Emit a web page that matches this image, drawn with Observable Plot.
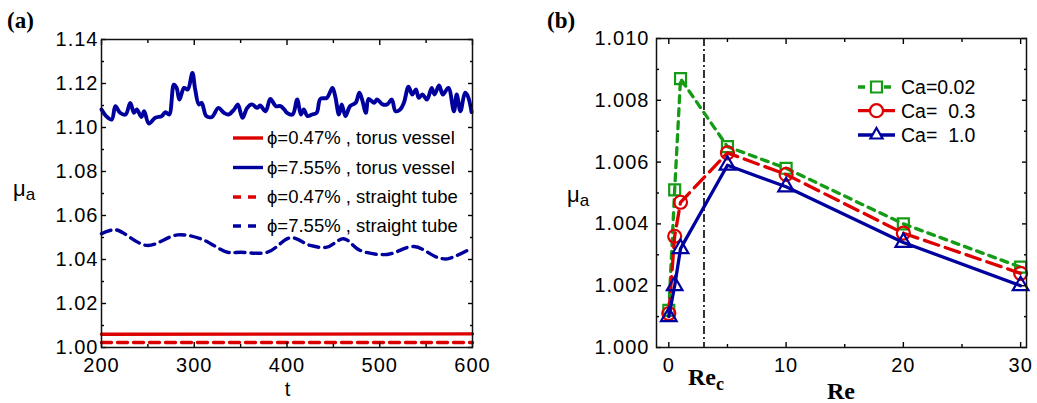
<!DOCTYPE html>
<html>
<head>
<meta charset="utf-8">
<script src="https://cdn.jsdelivr.net/npm/d3@7"></script>
<script src="https://cdn.jsdelivr.net/npm/@observablehq/plot@0.6"></script>
<style>
  body { margin: 0; background: #fff; }
  #fig { position: relative; width: 1037px; height: 403px; overflow: hidden; }
  #fig svg { position: absolute; top: 0; }
</style>
</head>
<body>
<div id="fig"></div>
<script>
// ---------- panel (a): apparent viscosity vs time ----------
const tTorus755 = [200,205,211,215,220,226,231,235,238,243,246,251,258,265,269,273,278,281,284,289,
  293,298,301,305,308,313,319,326,332,337,343,347,352,357,362,368,371,377,382,388,393,397,
  400,406,411,415,418,422,427,432,436,443,449,452,456,459,463,468,474,478,481,485,488,494,497,503,
  508,513,517,522,526,531,535,539,542,546,551,556,559,564,568,574,580,583,587,592,595,599];
const muTorus755 = [1.1082,1.1052,1.1036,1.1097,1.1067,1.1059,1.1112,1.1067,1.1082,1.1048,1.1074,1.1018,
  1.1044,1.1052,1.1070,1.1059,1.1195,1.1180,1.1127,1.1180,1.1173,1.1248,1.1173,1.1105,1.1112,1.1052,
  1.1048,1.1089,1.1067,1.1059,1.1082,1.1105,1.1044,1.1089,1.1105,1.1089,1.1100,1.1074,1.1130,1.1097,
  1.1097,1.1082,
  1.1067,1.1059,1.1127,1.1059,1.1082,1.1052,1.1059,1.1067,1.1130,1.1135,1.1180,1.1142,1.1059,1.1105,
  1.1052,1.1097,1.1112,1.1158,1.1127,1.1067,1.1130,1.1112,1.1127,1.1105,1.1105,1.1127,1.1074,1.1082,
  1.1112,1.1185,1.1150,1.1173,1.1135,1.1150,1.1127,1.1180,1.1150,1.1191,1.1150,1.1180,1.1074,1.1150,
  1.1074,1.1158,1.1142,1.1070];

const tTorus047 = [200, 400, 600];
const muTorus047 = [1.0060, 1.0061, 1.0062];

const tTube755 = [200,215,249,282,307,336,350,379,404,425,443,461,479,508,537,562,573,598];
const muTube755 = [1.0517,1.0535,1.0464,1.0512,1.0494,1.0433,1.0433,1.0433,1.0499,1.0464,1.0456,
  1.0494,1.0441,1.0423,1.0459,1.0410,1.0403,1.0449];

const tTube047 = [200, 400, 600];
const muTube047 = [1.0023, 1.0023, 1.0023];

const tTicks = [200, 300, 400, 500, 600];
const tMinor = [250, 350, 450, 550];
const muTicksA = [1.00, 1.02, 1.04, 1.06, 1.08, 1.10, 1.12, 1.14];
const muMinorA = [1.01, 1.03, 1.05, 1.07, 1.09, 1.11, 1.13];

const legendA = ["\u03D5=0.47% , torus vessel", "\u03D5=7.55% , torus vessel",
                 "\u03D5=0.47% , straight tube", "\u03D5=7.55% , straight tube"];

// ---------- panel (b): apparent viscosity vs Reynolds number ----------
const re = [0, 0.5, 1, 5, 10, 20, 30];
const muCa002 = [1.0012, 1.0051, 1.0087, 1.0065, 1.0058, 1.0040, 1.0026];
const muCa03  = [1.0011, 1.0036, 1.0047, 1.0063, 1.0056, 1.0037, 1.0024];
const muCa10  = [1.0010, 1.0020, 1.0032, 1.0059, 1.0052, 1.0034, 1.0020];
const reCritical = 3;

const reTicks = [0, 10, 20, 30];
const reMinor = [5, 15, 25];
const muTicksB = [1.000, 1.002, 1.004, 1.006, 1.008, 1.010];
const muMinorB = [1.001, 1.003, 1.005, 1.007, 1.009];

const legendB = ["Ca=0.02", "Ca=  0.3", "Ca=  1.0"];

// ---------- styling ----------
const BLUE = "#00009e", RED = "#dd0000", GREEN = "#159b15";
const SANS = "'Liberation Sans', Arial, sans-serif";
const SERIF = "'Liberation Serif', 'Times New Roman', serif";

const zip = (xs, ys, kx, ky) => xs.map((x, i) => ({[kx]: x, [ky]: ys[i]}));

// ticks pointing into the frame on all four sides
function boxAxes(xMajor, xMinor, yMajor, yMinor, xFmt, yFmt, yPad) {
  const common = {label: null, strokeWidth: 1.4};
  return [
    Plot.axisX(xMajor, {...common, anchor: "bottom", tickSize: -5, tickPadding: 15, tickFormat: xFmt}),
    Plot.axisX(xMinor, {...common, anchor: "bottom", tickSize: -3, fill: "none"}),
    Plot.axisX(xMajor, {...common, anchor: "top", tickSize: -5, fill: "none"}),
    Plot.axisX(xMinor, {...common, anchor: "top", tickSize: -3, fill: "none"}),
    Plot.axisY(yMajor, {...common, anchor: "left", tickSize: -5, tickPadding: yPad, tickFormat: yFmt}),
    Plot.axisY(yMinor, {...common, anchor: "left", tickSize: -3, fill: "none"}),
    Plot.axisY(yMajor, {...common, anchor: "right", tickSize: -5, fill: "none"}),
    Plot.axisY(yMinor, {...common, anchor: "right", tickSize: -3, fill: "none"}),
    Plot.frame({stroke: "#111", strokeWidth: 1.5})
  ];
}

const fig = document.getElementById("fig");
const TICK_STYLE = {fontFamily: SANS, fontSize: "20px", letterSpacing: "1px", color: "black",
                    background: "transparent", overflow: "visible"};

// ---------- draw panel (a) ----------
const plotA = Plot.plot({
  width: 518, height: 403,
  marginLeft: 101, marginRight: 46, marginTop: 39, marginBottom: 56,
  style: TICK_STYLE,
  x: {domain: [200, 600]},
  y: {domain: [1.00, 1.14]},
  marks: [
    Plot.line(zip(tTube755, muTube755, "t", "mu"), {x: "t", y: "mu", stroke: BLUE, strokeWidth: 3.4, strokeDasharray: "10,6", curve: "catmull-rom"}),
    Plot.line(zip(tTube047, muTube047, "t", "mu"), {x: "t", y: "mu", stroke: RED, strokeWidth: 3.4, strokeDasharray: "10,6"}),
    Plot.line(zip(tTorus047, muTorus047, "t", "mu"), {x: "t", y: "mu", stroke: RED, strokeWidth: 3.4}),
    Plot.line(zip(tTorus755, muTorus755, "t", "mu"), {x: "t", y: "mu", stroke: BLUE, strokeWidth: 3.9, curve: "catmull-rom"}),
    ...boxAxes(tTicks, tMinor, muTicksA, muMinorA, d3.format("d"), d3.format(".2f"), 8)
  ]
});
plotA.style.left = "0px";
fig.appendChild(plotA);

const gA = d3.select(plotA).append("g").attr("text-anchor", "start").style("letter-spacing", "0px");
gA.append("text").attr("x", 7).attr("y", 28)
  .attr("font-family", SERIF).attr("font-weight", "bold").attr("font-size", 23).text("(a)");
const yLabA = gA.append("text").attr("x", 13).attr("y", 196).attr("font-family", SANS);
yLabA.append("tspan").attr("font-size", 22).text("\u03BC");
yLabA.append("tspan").attr("font-size", 17).attr("dy", 4).text("a");
gA.append("text").attr("x", 287.5).attr("y", 396).attr("text-anchor", "middle")
  .attr("font-family", SANS).attr("font-size", 20).text("t");

const legendStylesA = [
  {color: RED, dash: null, x2: 263},
  {color: BLUE, dash: null, x2: 263},
  {color: RED, dash: "8,7", x2: 257},
  {color: BLUE, dash: "8,7", x2: 257}
];
const legendRowsA = [138, 167.5, 197, 226];
legendA.forEach((label, i) => {
  const s = legendStylesA[i], y = legendRowsA[i];
  gA.append("line").attr("x1", 233).attr("x2", s.x2).attr("y1", y).attr("y2", y)
    .attr("stroke", s.color).attr("stroke-width", 3.4).attr("stroke-dasharray", s.dash);
  gA.append("text").attr("x", 267).attr("y", y).attr("dy", "0.35em")
    .attr("font-family", SANS).attr("font-size", 18.5).style("white-space", "pre").text(label);
});

// ---------- draw panel (b) ----------
const seriesB = [
  {values: muCa002, color: GREEN, dash: "7,6", symbol: "square", r: 6.2},
  {values: muCa03, color: RED, dash: "15,7", symbol: "circle", r: 6.5},
  {values: muCa10, color: BLUE, dash: null, symbol: "triangle", r: 5.8}
];

const plotB = Plot.plot({
  width: 519, height: 403,
  marginLeft: 138, marginRight: 11, marginTop: 38, marginBottom: 56,
  style: TICK_STYLE,
  x: {domain: [-1.05, 30.5]},
  y: {domain: [1.000, 1.010]},
  marks: [
    Plot.ruleX([reCritical], {stroke: "#111", strokeWidth: 1.7, strokeDasharray: "8,3,2,3"}),
    ...seriesB.flatMap(s => {
      const data = zip(re, s.values, "re", "mu");
      return [
        Plot.line(data, {x: "re", y: "mu", stroke: s.color, strokeWidth: 3.3, strokeDasharray: s.dash}),
        Plot.dot(data, {x: "re", y: "mu", symbol: s.symbol, r: s.r, stroke: s.color, strokeWidth: 2.2, fill: "none"})
      ];
    }),
    ...boxAxes(reTicks, reMinor, muTicksB, muMinorB, d3.format("d"), d3.format(".3f"), 12)
  ]
});
plotB.style.left = "518px";
fig.appendChild(plotB);

const gB = d3.select(plotB).append("g").attr("text-anchor", "start").style("letter-spacing", "0px");
gB.append("text").attr("x", 29).attr("y", 28)
  .attr("font-family", SERIF).attr("font-weight", "bold").attr("font-size", 23).text("(b)");
const yLabB = gB.append("text").attr("x", 49).attr("y", 202).attr("font-family", SANS);
yLabB.append("tspan").attr("font-size", 22).text("\u03BC");
yLabB.append("tspan").attr("font-size", 17).attr("dy", 4).text("a");
gB.append("text").attr("x", 323).attr("y", 399).attr("text-anchor", "middle")
  .attr("font-family", SERIF).attr("font-weight", "bold").attr("font-size", 24).text("Re");
const reC = gB.append("text").attr("x", 170).attr("y", 385)
  .attr("font-family", SERIF).attr("font-weight", "bold").attr("font-size", 24);
reC.append("tspan").text("Re");
reC.append("tspan").attr("font-size", 18).attr("dy", 5).text("c");

const symbolTypes = {square: d3.symbolSquare, circle: d3.symbolCircle, triangle: d3.symbolTriangle2};
const legendRowsB = [87, 110.7, 135];
legendB.forEach((label, i) => {
  const s = seriesB[i], y = legendRowsB[i];
  gB.append("line").attr("x1", 340).attr("x2", 377).attr("y1", y).attr("y2", y)
    .attr("stroke", s.color).attr("stroke-width", 3.3).attr("stroke-dasharray", s.dash);
  gB.append("path").attr("transform", `translate(358.5,${y})`)
    .attr("d", d3.symbol(symbolTypes[s.symbol], Math.PI * s.r * s.r)())
    .attr("fill", "white").attr("stroke", s.color).attr("stroke-width", 2.2);
  gB.append("text").attr("x", 383).attr("y", y).attr("dy", "0.35em")
    .attr("font-family", SANS).attr("font-size", 19.5).style("white-space", "pre").text(label);
});
</script>
</body>
</html>
